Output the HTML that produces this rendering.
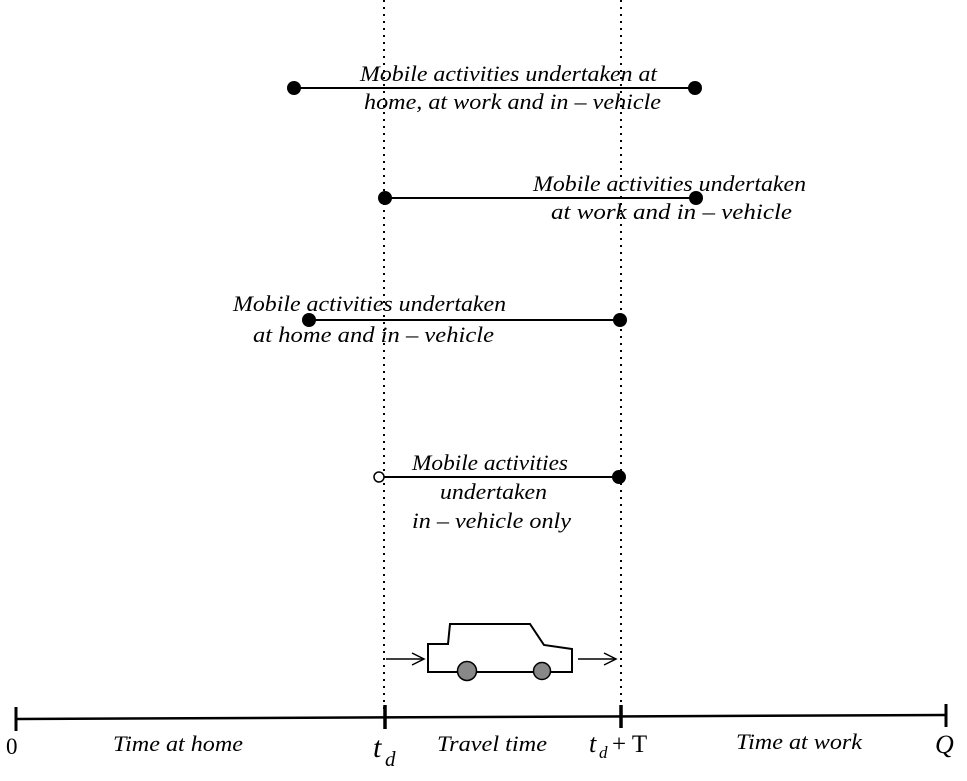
<!DOCTYPE html>
<html><head><meta charset="utf-8"><style>
html,body{margin:0;padding:0;background:#fff;width:967px;height:781px;overflow:hidden}
text{font-family:"Liberation Serif",serif;font-style:italic;font-size:22px;fill:#000}
</style></head><body>
<svg width="967" height="781" viewBox="0 0 967 781" xmlns="http://www.w3.org/2000/svg">
<g stroke="#000" stroke-width="2" stroke-dasharray="2,5" fill="none">
<line x1="384" y1="0" x2="384" y2="712"/>
<line x1="621" y1="0" x2="621" y2="712"/>
</g>
<g stroke="#000" fill="none">
<line x1="16" y1="719" x2="946" y2="715" stroke-width="2.5"/>
<line x1="16" y1="707" x2="16" y2="731" stroke-width="3"/>
<line x1="385" y1="705" x2="385" y2="729" stroke-width="3.5"/>
<line x1="621" y1="705" x2="621" y2="728" stroke-width="3.5"/>
<line x1="946" y1="704" x2="946" y2="727" stroke-width="3"/>
<line x1="294" y1="88" x2="695" y2="88" stroke-width="2"/>
<line x1="385" y1="198" x2="696" y2="198" stroke-width="2"/>
<line x1="309" y1="320" x2="620" y2="320" stroke-width="2"/>
<line x1="379" y1="477" x2="619" y2="477" stroke-width="2"/>
</g>
<g fill="#000">
<circle cx="294" cy="88" r="7"/><circle cx="695" cy="88" r="7"/>
<circle cx="385" cy="198" r="7"/><circle cx="696" cy="198" r="7"/>
<circle cx="309" cy="320" r="7"/><circle cx="620" cy="320" r="7"/>
<circle cx="619" cy="477" r="7"/>
</g>
<circle cx="379" cy="477" r="5" fill="#fff" stroke="#000" stroke-width="1.5"/>
<path d="M428,644 L448,644 L450,624 L530,624 L544,645 L572,649 L572,672 L428,672 Z" fill="#fff" stroke="#000" stroke-width="2"/>
<circle cx="467" cy="671" r="9.5" fill="#888" stroke="#000" stroke-width="1.5"/>
<circle cx="542" cy="671" r="8.5" fill="#888" stroke="#000" stroke-width="1.5"/>
<g stroke="#000" stroke-width="1.5" fill="none">
<line x1="386" y1="659" x2="424" y2="659"/><polyline points="412,653 424,659 412,665"/>
<line x1="578" y1="659" x2="616" y2="659"/><polyline points="604,653 616,659 604,665"/>
</g>
<text x="360" y="81" textLength="297" lengthAdjust="spacingAndGlyphs">Mobile activities undertaken at</text>
<text x="364" y="109" textLength="297" lengthAdjust="spacingAndGlyphs">home, at work and in – vehicle</text>
<text x="533" y="191" textLength="273" lengthAdjust="spacingAndGlyphs">Mobile activities undertaken</text>
<text x="551" y="219" textLength="241" lengthAdjust="spacingAndGlyphs">at work and in – vehicle</text>
<text x="233" y="311" textLength="273" lengthAdjust="spacingAndGlyphs">Mobile activities undertaken</text>
<text x="253" y="342" textLength="241" lengthAdjust="spacingAndGlyphs">at home and in – vehicle</text>
<text x="412" y="470" textLength="156" lengthAdjust="spacingAndGlyphs">Mobile activities</text>
<text x="440" y="499" textLength="107" lengthAdjust="spacingAndGlyphs">undertaken</text>
<text x="412" y="528" textLength="159" lengthAdjust="spacingAndGlyphs">in – vehicle only</text>
<text x="113" y="751" textLength="130" lengthAdjust="spacingAndGlyphs">Time at home</text>
<text x="437" y="751" textLength="110" lengthAdjust="spacingAndGlyphs">Travel time</text>
<text x="736" y="749" textLength="126" lengthAdjust="spacingAndGlyphs">Time at work</text>
<text x="6" y="754" style="font-style:normal;font-size:23px">0</text>
<text x="935" y="753" style="font-size:26px">Q</text>
<text x="373" y="757" style="font-size:30px">t</text>
<text x="385" y="766" style="font-size:21px">d</text>
<text x="589" y="752" style="font-size:26px">t</text>
<text x="599" y="758" style="font-size:17px">d</text>
<text x="612" y="752" style="font-style:normal;font-size:25px">+ T</text>
</svg>
</body></html>
